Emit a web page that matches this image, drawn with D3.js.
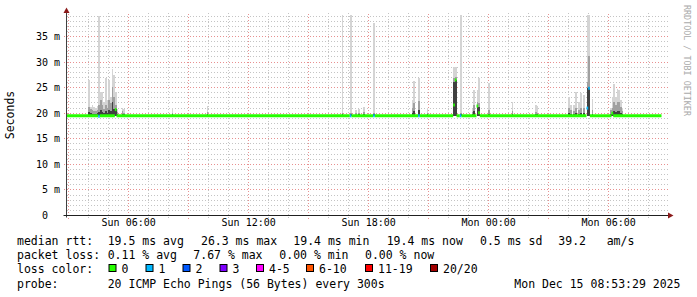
<!DOCTYPE html>
<html>
<head>
<meta charset="utf-8">
<script src="https://cdn.jsdelivr.net/npm/d3@7"></script>
<style>
  body { margin: 0; background: #fff; }
  text { font-family: "DejaVu Sans Mono", monospace; }
</style>
</head>
<body>
<div id="target"></div>
<script>
// ---- data ----
const yTicks = [0, 5, 10, 15, 20, 25, 30, 35];
const yTickLabels = ["0  ", "5 m", "10 m", "15 m", "20 m", "25 m", "30 m", "35 m"];
const xTickLabels = ["Sun 06:00", "Sun 12:00", "Sun 18:00", "Mon 00:00", "Mon 06:00"];

// median rtt (ms), step starts, with lost pings out of 20
const medianTimes = ["Sun 02:55", "Sun 04:30", "Sun 04:35", "Sun 05:20", "Sun 05:25", "Sun 17:05", "Sun 17:10",
  "Sun 18:15", "Sun 18:20", "Sun 20:30", "Sun 20:35", "Sun 22:15", "Sun 22:20", "Sun 22:25", "Sun 22:35",
  "Sun 22:40", "Sun 23:25", "Sun 23:30", "Sun 23:35", "Mon 04:55", "Mon 05:00", "Mon 05:05", "Mon 06:10",
  "Mon 06:15", "Mon 08:40"];
const medianValues = [19.4, 19.3, 19.4, 20.6, 19.4, 19.4, 19.4,
  19.4, 19.4, 19.4, 19.4, 21.5, 26.4, 19.4, 19.4,
  19.4, 21.3, 20.0, 19.4, 20.9, 24.8, 19.4, 19.9,
  19.4, 19.4];
const medianLoss = [0, 1, 0, 0, 0, 1, 0,
  1, 0, 1, 0, 0, 0, 0, 1,
  0, 0, 0, 0, 1, 1, 0, 0,
  0, 0];

// smoke: highest ping, upper band, dense core (ms)
const smokeTimes = ["Sun 04:00", "Sun 04:05", "Sun 04:10", "Sun 04:15", "Sun 04:20", "Sun 04:25", "Sun 04:30",
  "Sun 04:35", "Sun 04:40", "Sun 04:45", "Sun 04:50", "Sun 04:55", "Sun 05:00", "Sun 05:05", "Sun 05:10",
  "Sun 05:15", "Sun 05:20", "Sun 05:25", "Sun 05:40", "Sun 05:45", "Sun 08:10", "Sun 09:55",
  "Sun 16:40", "Sun 17:05", "Sun 17:20", "Sun 17:30", "Sun 17:45", "Sun 18:15",
  "Sun 20:10", "Sun 20:15", "Sun 20:30", "Sun 20:55", "Sun 22:15", "Sun 22:20", "Sun 22:35",
  "Sun 23:10", "Sun 23:15", "Sun 23:25", "Sun 23:30", "Mon 00:00", "Mon 01:10", "Mon 02:20", "Mon 02:25",
  "Mon 04:00", "Mon 04:05", "Mon 04:15", "Mon 04:20", "Mon 04:30", "Mon 04:35", "Mon 04:45",
  "Mon 04:55", "Mon 05:00", "Mon 05:10", "Mon 06:05", "Mon 06:10", "Mon 06:15", "Mon 06:20",
  "Mon 06:25", "Mon 06:30", "Mon 06:35", "Mon 06:40"];
const smokeMax = [26.4, 21.2, 21.5, 21.2, 21.0, 21.3, 39.0,
  24.1, 24.0, 22.0, 26.8, 22.5, 26.4, 23.0, 28.5,
  27.3, 24.0, 20.8, 21.0, 20.8, 21.0, 21.4,
  39.1, 39.1, 20.5, 20.8, 21.2, 37.6,
  22.5, 26.1, 26.7, 21.0, 29.0, 29.0, 39.1,
  20.8, 24.4, 24.5, 26.7, 25.8, 22.0, 21.5, 21.3,
  23.1, 21.5, 21.5, 24.1, 22.0, 23.8, 23.5,
  39.1, 39.1, 22.7, 21.0, 23.0, 25.6, 23.0,
  24.6, 24.4, 22.5, 21.0];
const smokeMid = [21.2, 20.8, 20.5, 20.3, 20.4, 20.6, 21.6,
  22.5, 21.5, 20.8, 21.5, 21.0, 22.5, 21.8, 25.0,
  23.0, 21.5, 20.2, 20.3, 20.0, 20.0, 20.2,
  20.0, 20.0, 19.9, 20.0, 20.2, 20.0,
  21.0, 21.9, 22.2, 20.0, 26.8, 27.0, 20.0,
  20.2, 21.5, 22.0, 21.8, 20.5, 20.3, 20.2, 20.0,
  21.0, 20.5, 20.4, 21.0, 20.5, 21.0, 21.0,
  26.0, 31.0, 20.5, 20.5, 21.0, 22.0, 21.5,
  22.0, 22.0, 21.2, 20.4];
const smokeCore = [20.2, 19.9, 19.8, 19.8, 19.7, 19.9, 20.1,
  20.6, 20.2, 19.9, 20.3, 20.0, 20.5, 20.4, 22.0,
  20.8, 20.8, 19.8, 19.8, 19.7, 19.7, 19.7,
  19.7, 19.7, 19.6, 19.7, 19.7, 19.7,
  20.0, 20.4, 20.6, 19.7, 26.0, 26.4, 19.7,
  19.8, 20.3, 21.3, 21.1, 19.8, 19.8, 19.7, 19.7,
  20.0, 19.8, 19.8, 20.0, 19.8, 20.0, 20.0,
  24.8, 25.1, 19.8, 19.8, 20.0, 20.3, 20.2,
  20.4, 20.4, 20.0, 19.8];

const lossLabels = ["0", "1", "2", "3", "4-5", "6-10", "11-19", "20/20"];
const lossColors = ["#26ff00", "#00b8ff", "#0059ff", "#7e00ff", "#ff00ff", "#ff5500", "#ff0000", "#a10000"];

const rttStats = ["19.5 ms avg", "26.3 ms max", "19.4 ms min", "19.4 ms now", "0.5 ms sd", "39.2", "am/s"];
const lossStats = ["0.11 % avg", "7.67 % max", "0.00 % min", "0.00 % now"];
const probeText = "20 ICMP Echo Pings (56 Bytes) every 300s";
const stampText = "Mon Dec 15 08:53:29 2025";

// ---- layout ----
const width = 697, height = 297;
const plotLeft = 66.5, plotBottom = 215.5, plotTop = 13, plotRight = 669;
const mono = "\"DejaVu Sans Mono\", monospace";

function parseT(s) {
  const [d, hm] = s.split(" ");
  const [h, m] = hm.split(":").map(Number);
  return new Date(2025, 11, d === "Sun" ? 14 : 15, h, m);
}
function lossIndex(n) {
  if (n <= 3) return n;
  if (n <= 5) return 4;
  if (n <= 10) return 5;
  if (n <= 19) return 6;
  return 7;
}

const svg = d3.select("#target").append("svg")
  .attr("width", width)
  .attr("height", height)
  .style("display", "block");

svg.append("rect").attr("width", width).attr("height", height).attr("fill", "#fff");

const x = d3.scaleTime()
  .domain([new Date(2025, 11, 14, 2, 53, 29), new Date(2025, 11, 15, 8, 53, 29)])
  .range([66, 666]);
const y = d3.scaleLinear()
  .domain([0, 39.1])
  .range([215, 15]);

// grid
const grid = svg.append("g").attr("shape-rendering", "crispEdges");
const minorY = d3.range(1, 40).filter(v => v % 5 !== 0);
const majorY = d3.range(5, 40, 5);
const hours = d3.timeHour.range(new Date(2025, 11, 14, 3), new Date(2025, 11, 15, 9));
const minorX = hours.filter(d => d.getHours() % 3 !== 0);
const majorX = hours.filter(d => d.getHours() % 3 === 0);

grid.selectAll(".ym").data(minorY).enter().append("line")
  .attr("x1", plotLeft).attr("x2", plotRight)
  .attr("y1", d => Math.round(y(d)) + 0.5).attr("y2", d => Math.round(y(d)) + 0.5)
  .attr("stroke", "#c4c4c4").attr("stroke-dasharray", "1,2");
grid.selectAll(".xm").data(minorX).enter().append("line")
  .attr("x1", d => Math.round(x(d)) + 0.5).attr("x2", d => Math.round(x(d)) + 0.5)
  .attr("y1", plotBottom + 2).attr("y2", plotTop)
  .attr("stroke", "#c4c4c4").attr("stroke-dasharray", "1,2");
grid.selectAll(".yM").data(majorY).enter().append("line")
  .attr("x1", plotLeft - 3).attr("x2", plotRight)
  .attr("y1", d => Math.round(y(d)) + 0.5).attr("y2", d => Math.round(y(d)) + 0.5)
  .attr("stroke", "#e89090").attr("stroke-dasharray", "1,2");
grid.selectAll(".xM").data(majorX).enter().append("line")
  .attr("x1", d => Math.round(x(d)) + 0.5).attr("x2", d => Math.round(x(d)) + 0.5)
  .attr("y1", plotBottom + 3).attr("y2", plotTop)
  .attr("stroke", "#e89090").attr("stroke-dasharray", "1,2");

// smoke
const stepW = x(new Date(2025, 11, 14, 3, 5)) - x(new Date(2025, 11, 14, 3, 0));
const smoke = smokeTimes.map((t, i) => ({t: parseT(t), max: smokeMax[i], mid: smokeMid[i], core: smokeCore[i]}));
const layers = [["max", "#d4d4d4"], ["mid", "#a0a0a0"], ["core", "#404040"]];
layers.forEach(([key, col]) => {
  svg.append("g").selectAll("rect").data(smoke).enter().append("rect")
    .attr("x", d => x(d.t))
    .attr("width", stepW)
    .attr("y", d => y(d[key]))
    .attr("height", d => y(19.3) - y(d[key]))
    .attr("fill", col)
    .attr("shape-rendering", "crispEdges");
});

// median line, one segment per step run, coloured by loss
const segs = medianTimes.slice(0, -1).map((t, i) => ({
  t0: parseT(t), t1: parseT(medianTimes[i + 1]), v: medianValues[i], loss: medianLoss[i]
}));
svg.append("g").selectAll("line").data(segs).enter().append("line")
  .attr("x1", d => x(d.t0)).attr("x2", d => x(d.t1))
  .attr("y1", d => y(d.v)).attr("y2", d => y(d.v))
  .attr("stroke", d => lossColors[lossIndex(d.loss)])
  .attr("stroke-width", 3);

// axes
const yAxis = d3.axisLeft(y).tickValues(yTicks).tickSize(0).tickPadding(0)
  .tickFormat((d, i) => yTickLabels[i]);
const gy = svg.append("g").attr("transform", "translate(60,0)").call(yAxis);
gy.select(".domain").remove();
gy.selectAll("text").attr("font-family", mono).attr("font-size", 10).attr("fill", "#000")
  .style("white-space", "pre").attr("dy", "0.35em").attr("x", 0);

const xAxis = d3.axisBottom(x).tickValues(xTickLabels.map(parseT)).tickSize(0).tickPadding(0)
  .tickFormat(d3.timeFormat("%a %H:%M"));
const gx = svg.append("g").attr("transform", "translate(0,219)").call(xAxis);
gx.select(".domain").remove();
gx.selectAll("text").attr("font-family", mono).attr("font-size", 10).attr("fill", "#000").attr("dy", "0.71em");

svg.append("line").attr("x1", plotLeft).attr("x2", plotLeft).attr("y1", plotBottom + 2).attr("y2", 11)
  .attr("stroke", "#404040");
svg.append("line").attr("x1", plotLeft - 3).attr("x2", 670).attr("y1", plotBottom).attr("y2", plotBottom)
  .attr("stroke", "#202020");
svg.append("path").attr("d", `M${plotLeft - 3},13 L${plotLeft},7.5 L${plotLeft + 3},13 Z`).attr("fill", "#8b1a1a");
svg.append("path").attr("d", `M668,${plotBottom - 3} L673.5,${plotBottom} L668,${plotBottom + 3} Z`).attr("fill", "#8b1a1a");

// titles
svg.append("text").attr("transform", "translate(14,115) rotate(-90)")
  .attr("text-anchor", "middle").attr("font-size", 11.5).attr("fill", "#000").text("Seconds");
svg.append("text").attr("transform", "translate(684,5) rotate(90)")
  .attr("font-size", 8.4).attr("fill", "#aaa").text("RRDTOOL / TOBI OETIKER");

// legend
const leg = svg.append("g").attr("font-size", 11.5).attr("fill", "#000");
const rows = [245, 259, 273, 287.5];
leg.append("text").attr("x", 17).attr("y", rows[0]).text("median rtt:");
[107.7, 201, 293.3, 386.7, 480, 558.3, 606.7].forEach((px, i) =>
  leg.append("text").attr("x", px).attr("y", rows[0]).text(rttStats[i]));
leg.append("text").attr("x", 17).attr("y", rows[1]).text("packet loss:");
[107.7, 193.3, 279.3, 365].forEach((px, i) =>
  leg.append("text").attr("x", px).attr("y", rows[1]).text(lossStats[i]));
leg.append("text").attr("x", 17).attr("y", rows[2]).text("loss color:");
const boxX = [108.5, 145.5, 182.5, 219.5, 256, 306, 365, 430];
lossLabels.forEach((lab, i) => {
  leg.append("rect").attr("x", boxX[i] + 0.5).attr("y", 264.5).attr("width", 7).attr("height", 7)
    .attr("fill", lossColors[i]).attr("stroke", "#000");
  leg.append("text").attr("x", boxX[i] + 13).attr("y", rows[2]).text(lab);
});
leg.append("text").attr("x", 17).attr("y", rows[3]).text("probe:");
leg.append("text").attr("x", 107.7).attr("y", rows[3]).text(probeText);
leg.append("text").attr("x", 514.3).attr("y", rows[3]).text(stampText);
</script>
</body>
</html>
